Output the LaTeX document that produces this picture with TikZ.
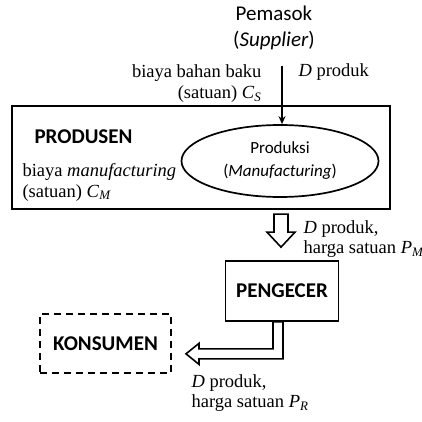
\documentclass[tikz,border=0pt]{standalone}
\usepackage{fontspec}
\setmainfont{Liberation Serif}
\newfontfamily\calib{Carlito}
\usetikzlibrary{shapes.geometric,calc,arrows.meta}

\begin{document}
\begin{tikzpicture}[x=1pt,y=-1pt,
	sans/.style={font=\calib\fontsize{21}{26}\selectfont},
	bsans/.style={font=\calib\bfseries\fontsize{21}{25}\selectfont},
	serif/.style={font=\fontsize{18.5}{21}\selectfont},
	frame/.style={draw, line width=1.7pt},
	hollow/.style={draw, line width=1.6pt, fill=white, line join=miter}]
	\useasboundingbox (0,0) rectangle (422,422);

	% Supplier on top
	\node[sans, align=center] (pemasok) at (274,28) {Pemasok\\(\textit{Supplier})};
	\coordinate (supin) at (282,66);
	\node[serif, anchor=east, align=right] (bahan) at (265,84) {biaya bahan baku\\(satuan) \textit{C}\textsubscript{\textit{S}}};
	\node[serif, anchor=west] (dprod) at (295,72) {\textit{D} produk};

	% Producer box
	\node[frame, minimum width=378pt, minimum height=103pt] (produsen) at (201,157.5) {};
	\node[bsans, anchor=west] (prodlabel) at (31,137) {PRODUSEN};
	\node[serif, anchor=west, align=left] (mfg) at (19,182) {biaya \textit{manufacturing}\\(satuan) \textit{C}\textsubscript{\textit{M}}};
	\node[ellipse, frame, inner sep=0pt, minimum width=197pt, minimum height=72pt,
		font=\calib\fontsize{17}{23}\selectfont, align=center] (produksi) at (280,161) {Produksi\\(\textit{Manufacturing})};
	\draw[-{Stealth[length=8pt,width=7pt]}, line width=1.5pt] (supin) -- (supin |- produksi.north);

	% Retailer
	\node[frame, bsans, minimum width=113pt, minimum height=60pt] (pengecer) at (282,291) {PENGECER};
	\coordinate (dtip) at ($(pengecer.north)+(-1,-13)$);
	\draw[hollow] ($(dtip)+(-7,-33)$) -- ($(dtip)+(7,-33)$) -- ($(dtip)+(7,-15)$) -- ($(dtip)+(14,-15)$)
		-- (dtip) -- ($(dtip)+(-14,-15)$) -- ($(dtip)+(-7,-15)$) -- cycle;
	\node[serif, anchor=west, align=left, font=\fontsize{18.5}{20}\selectfont] (pm) at (300,239) {\textit{D} produk,\\harga satuan \textit{P}\textsubscript{\textit{M}}};

	% Consumer
	\node[frame, bsans, dash pattern=on 7pt off 5pt, minimum width=131pt, minimum height=59pt] (konsumen) at (105.5,343.5) {KONSUMEN};
	\draw[hollow] ($(pengecer.south)+(-9,0)$) -- ($(pengecer.south)+(-9,27)$) -- ($(pengecer.south)+(-83,27)$)
		-- ($(pengecer.south)+(-83,21.5)$) -- ($(pengecer.south)+(-96,32)$) -- ($(pengecer.south)+(-83,42.5)$)
		-- ($(pengecer.south)+(-83,37)$) -- ($(pengecer.south)+(1,37)$) -- ($(pengecer.south)+(1,0)$) -- cycle;
	\node[serif, anchor=west, align=left, font=\fontsize{18.5}{20}\selectfont] (pr) at (188,393) {\textit{D} produk,\\harga satuan \textit{P}\textsubscript{\textit{R}}};

\end{tikzpicture}
\end{document}
